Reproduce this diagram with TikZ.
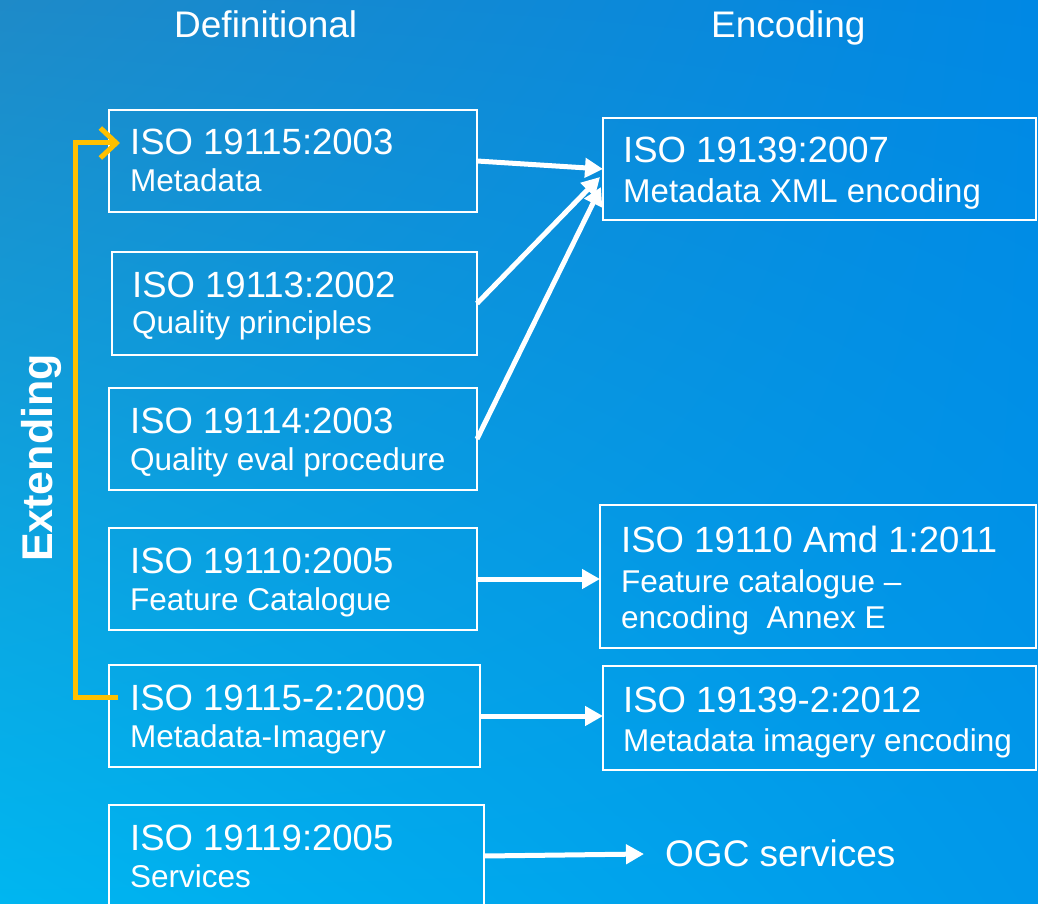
\documentclass[tikz,border=0pt]{standalone}
\usepackage{fontspec}
\setmainfont{Liberation Sans}
\usetikzlibrary{arrows.meta,calc,shadings}
\definecolor{bgTL}{RGB}{30,138,200}
\definecolor{bgTR}{RGB}{0,136,228}
\definecolor{bgBL}{RGB}{0,182,240}
\definecolor{bgBR}{RGB}{0,152,234}
\definecolor{extorange}{RGB}{255,192,0}
\tikzset{
  stdbox/.style={draw=white, line width=1.8pt, anchor=north west, inner sep=0pt, outer sep=0pt},
  lineA/.style={text=white, anchor=base west, inner sep=0pt, font=\fontsize{36.5}{40}\selectfont},
  lineB/.style={text=white, anchor=base west, inner sep=0pt, font=\fontsize{31.5}{36}\selectfont},
  header/.style={text=white, anchor=base west, font=\fontsize{37}{40}\selectfont, inner sep=0pt},
  warrow/.style={draw=white, line width=5pt, -{Triangle[length=18pt,width=19pt]}},
  extline/.style={draw=extorange, line width=5pt, -{Straight Barb[length=16pt,width=30pt,line width=5pt]}}
}
\begin{document}
\begin{tikzpicture}[x=1pt,y=-1pt]
\useasboundingbox (0,0) rectangle (1038,904);
\shade[upper left=bgTL, upper right=bgTR, lower left=bgBL, lower right=bgBR] (0,0) rectangle (1038,904);

\node[header] (hdef) at (174,38) {Definitional};
\node[header] (henc) at (711,38) {Encoding};

% left column boxes
\node[stdbox, minimum width=368pt, minimum height=102pt] (b1) at (109,110) {};
\node[lineA] (b1a) at ($(b1.north west)+(21,45)$) {ISO 19115:2003};
\node[lineB] (b1b) at ($(b1.north west)+(21,82)$) {Metadata};

\node[stdbox, minimum width=365pt, minimum height=103pt] (b2) at (112,252) {};
\node[lineA] (b2a) at ($(b2.north west)+(20,45)$) {ISO 19113:2002};
\node[lineB] (b2b) at ($(b2.north west)+(20,81)$) {Quality principles};

\node[stdbox, minimum width=368pt, minimum height=102pt] (b3) at (109,388) {};
\node[lineA] (b3a) at ($(b3.north west)+(21,45)$) {ISO 19114:2003};
\node[lineB] (b3b) at ($(b3.north west)+(21,82)$) {Quality eval procedure};

\node[stdbox, minimum width=368pt, minimum height=102pt] (b4) at (109,528) {};
\node[lineA] (b4a) at ($(b4.north west)+(21,45)$) {ISO 19110:2005};
\node[lineB] (b4b) at ($(b4.north west)+(21,82)$) {Feature Catalogue};

\node[stdbox, minimum width=371pt, minimum height=102pt] (b5) at (109,665) {};
\node[lineA] (b5a) at ($(b5.north west)+(21,45)$) {ISO 19115-2:2009};
\node[lineB] (b5b) at ($(b5.north west)+(21,82)$) {Metadata-Imagery};

\node[stdbox, minimum width=375pt, minimum height=102pt] (b6) at (109,805) {};
\node[lineA] (b6a) at ($(b6.north west)+(21,45)$) {ISO 19119:2005};
\node[lineB] (b6b) at ($(b6.north west)+(21,82)$) {Services};

% right column boxes
\node[stdbox, minimum width=433pt, minimum height=102pt] (ra) at (603,118) {};
\node[lineA] (raa) at ($(ra.north west)+(20,45)$) {ISO 19139:2007};
\node[lineB, font=\fontsize{33}{36}\selectfont] (rab) at ($(ra.north west)+(20,85)$) {Metadata XML encoding};

\node[stdbox, minimum width=436pt, minimum height=143pt] (rb) at (600,505) {};
\node[lineA] (rba) at ($(rb.north west)+(21,47)$) {ISO 19110 Amd 1:2011};
\node[lineB] (rbb) at ($(rb.north west)+(21,87)$) {Feature catalogue –};
\node[lineB] (rbc) at ($(rb.north west)+(21,123)$) {encoding\ \ Annex E};

\node[stdbox, minimum width=433pt, minimum height=104pt] (rc) at (603,666) {};
\node[lineA] (rca) at ($(rc.north west)+(20,46)$) {ISO 19139-2:2012};
\node[lineB] (rcb) at ($(rc.north west)+(20,85)$) {Metadata imagery encoding};

\node[lineA, font=\fontsize{37}{40}\selectfont] (ogc) at (665,866) {OGC services};

\node[text=white, rotate=90, anchor=base, font=\bfseries\fontsize{43}{46}\selectfont, inner sep=0pt] (ext) at (52,458) {Extending};

% connectors
\draw[warrow] (b1.east) -- (ra.west);
\draw[warrow] (b2.east) -- ($(ra.west)+(-3,8)$);
\draw[warrow] (b3.east) -- ($(ra.west)+(-2,18)$);
\draw[warrow] (b4.east) -- (b4.east -| rb.west);
\draw[warrow] (b5.east) -- (b5.east -| rc.west);
\draw[warrow] (b6.east) -- ($(ogc.west |- b6.east)+(-21,-2)$);

\draw[extline] ($(b5.west)+(9,-19)$) -- ++(-43,0) |- ($(b1.west)+(11,-18)$);
\end{tikzpicture}
\end{document}
